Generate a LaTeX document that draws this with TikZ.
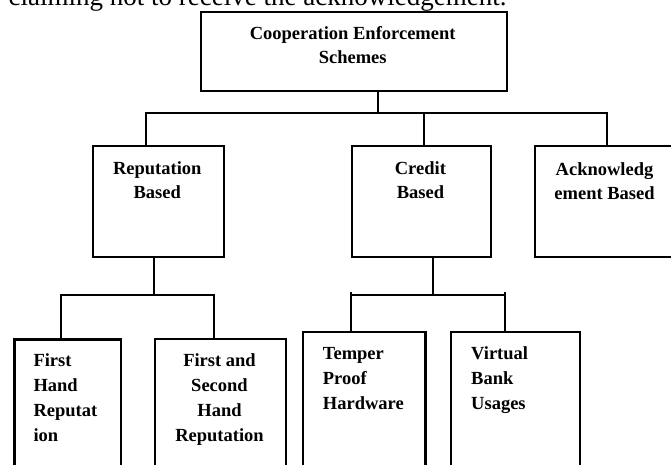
\documentclass[tikz,border=0pt]{standalone}
\usepackage{fontspec}
\setmainfont{Liberation Serif}
\begin{document}
\begin{tikzpicture}[x=1pt,y=-1pt,
  box/.style={draw, line width=2.3pt, rectangle, inner sep=0pt, anchor=north west},
  conn/.style={line width=2pt},
  lbl/.style={font=\bfseries\fontsize{18.5}{24}\selectfont, inner sep=0pt, anchor=base, align=center},
  lblc/.style={font=\bfseries\fontsize{18.5}{25}\selectfont, inner sep=0pt, anchor=base, align=center},
  lbll/.style={font=\bfseries\fontsize{18.5}{25}\selectfont, inner sep=0pt, anchor=base west, align=left},
]
\useasboundingbox (0,0) rectangle (671,464);
\clip (0,0) rectangle (671,464);
\node[font=\fontsize{27}{30}\selectfont, inner sep=0pt, anchor=base west] (cap) at (8.5,5.3) {claiming not to receive the acknowledgement.};

\node[box, minimum width=305.5pt, minimum height=79.3pt] (top) at (200,10.7) {};
\node[box, minimum width=130.5pt, minimum height=110.7pt] (rep) at (92,145) {};
\node[box, minimum width=139pt, minimum height=110.7pt] (cred) at (351,145) {};
\node[box, minimum width=140pt, minimum height=111pt] (ack) at (534,145) {};
\node[box, minimum width=106.7pt, minimum height=140pt] (fh) at (13.3,338.3) {};
\node[box, minimum width=131pt, minimum height=140pt] (fsh) at (154,338) {};
\node[box, minimum width=122.6pt, minimum height=150pt] (tph) at (301.7,331) {};
\node[box, minimum width=129pt, minimum height=150pt] (vbu) at (450,331) {};

% anchor=base of a multi-line node is the baseline of its last line
\node[lbl] (ttop) at (352.7,63.3) {Cooperation Enforcement\\Schemes};
\node[lbl] (trep) at (157.3,198.5) {Reputation\\Based};
\node[lbl] (tcred) at (420.4,198.5) {Credit\\Based};
\node[lbl] (tack) at (604.5,199) {Acknowledg\\ement Based};
\node[lbll] (tfh) at (33.3,441) {First\\Hand\\Reputat\\ion};
\node[lblc] (tfsh) at (219.5,441) {First and\\Second\\Hand\\Reputation};
\node[lbll] (ttph) at (322.7,409.3) {Temper\\Proof\\Hardware};
\node[lbll] (tvbu) at (471,409.3) {Virtual\\Bank\\Usages};

\coordinate (j0) at (378,113);
\coordinate (rx) at (146,0);
\coordinate (cx) at (424,0);
\coordinate (ax) at (607,0);
\draw[conn] (top.south -| j0) -- (j0);
\draw[conn] (rep.north -| rx) |- (j0) -| (ack.north -| ax);
\draw[conn] (j0 -| cx) -- (cred.north -| cx);

\coordinate (j1) at (154,295);
\coordinate (fhx) at (61,0);
\coordinate (fshx) at (214,0);
\draw[conn] (rep.south -| j1) -- (j1);
\draw[conn] (fh.north -| fhx) |- (j1) -| (fsh.north -| fshx);

\coordinate (j2) at (433,295);
\coordinate (tx) at (351,0);
\coordinate (vx) at (505,0);
\coordinate (tick) at (0,291.5);
\draw[conn] (cred.south -| j2) -- (j2);
\draw[conn] (j2 -| tx) -- (j2 -| vx);
\draw[conn] (tph.north -| tx) -- (tx |- tick);
\draw[conn] (vbu.north -| vx) -- (vx |- tick);
\end{tikzpicture}
\end{document}
